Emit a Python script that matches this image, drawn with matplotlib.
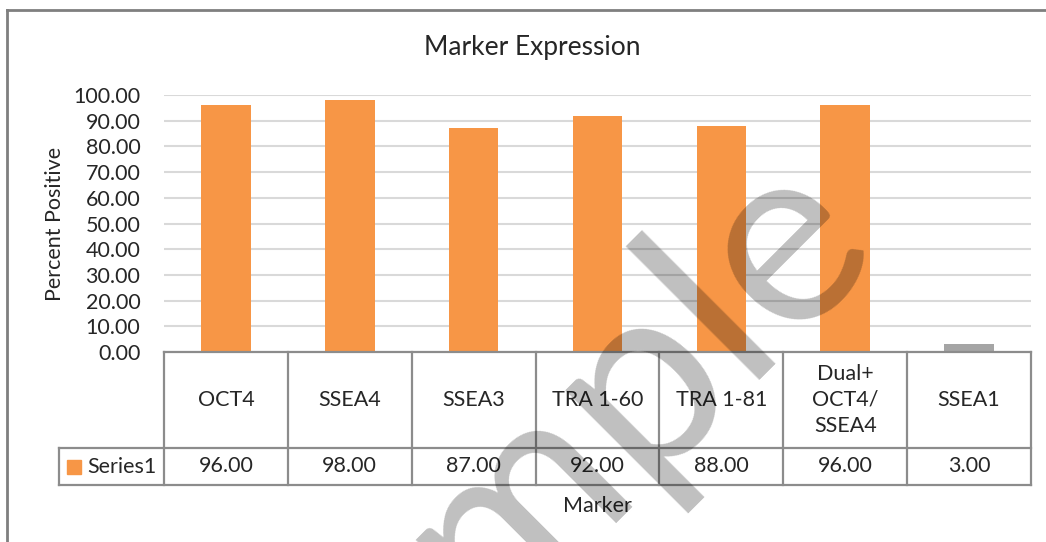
import numpy as np
import matplotlib.pyplot as plt
from matplotlib.patches import Rectangle
from matplotlib.lines import Line2D

plt.rcParams['font.family'] = ['Lato', 'DejaVu Sans']

# data
markers = ["OCT4", "SSEA4", "SSEA3", "TRA 1-60", "TRA 1-81", "Dual+\nOCT4/\nSSEA4", "SSEA1"]
percent = [96.0, 98.0, 87.0, 92.0, 88.0, 96.0, 3.0]
bar_colors = ["#F79646"] * 6 + ["#A5A5A5"]
series_name = "Series1"

W, H = 1046, 542
line_col = "#8C8C8C"
txt_col = "#262626"
fs = 15.5

fig = plt.figure(figsize=(W / 100, H / 100), dpi=100)

# outer chart border (only left and top visible)
fig.add_artist(Line2D([7 / W, 7 / W], [0, 1 - 10 / H], transform=fig.transFigure, color="#7F7F7F", lw=2))
fig.add_artist(Line2D([7 / W, 1], [1 - 10 / H, 1 - 10 / H], transform=fig.transFigure, color="#7F7F7F", lw=2))

# plot area
ax = fig.add_axes([164 / W, 1 - 352 / H, (1031 - 164) / W, (352 - 95) / H])
x = np.arange(len(markers))
ax.bar(x, percent, width=0.4, color=bar_colors, zorder=2)
ax.set_xlim(-0.5, len(markers) - 0.5)
ax.set_ylim(0, 100)
ax.set_yticks(np.arange(0, 101, 10))
ax.set_yticklabels([f"{v:.2f}" for v in np.arange(0, 101, 10)], fontsize=fs, color=txt_col)
ax.tick_params(axis="y", length=0, pad=17)
ax.tick_params(axis="x", length=0, labelbottom=False)
ax.grid(axis="y", color="#D9D9D9", lw=1.5, zorder=0)
for s in ax.spines.values():
    s.set_visible(False)
ax.set_ylabel("Percent Positive", fontsize=fs, color=txt_col, labelpad=6)

fig.text(532 / W, 1 - 47 / H, "Marker Expression", ha="center", va="center", fontsize=19, color=txt_col)

# data table below the plot
tb = fig.add_axes([164 / W, 1 - 485 / H, (1031 - 164) / W, (485 - 352) / H], sharex=ax)
tb.set_ylim(0, 1)
tb.axis("off")
row_split = 37 / 133
n = len(markers)
for i in range(n + 1):
    tb.plot([i - 0.5, i - 0.5], [0, 1], color=line_col, lw=1.6, clip_on=False)
tb.plot([-0.5, n - 0.5], [1, 1], color=line_col, lw=1.6, clip_on=False)
left_edge = -0.5 - 105 / 123.9
tb.plot([left_edge, n - 0.5], [row_split, row_split], color=line_col, lw=1.6, clip_on=False)
tb.plot([left_edge, n - 0.5], [0, 0], color=line_col, lw=1.6, clip_on=False)
tb.plot([left_edge, left_edge], [0, row_split], color=line_col, lw=1.6, clip_on=False)
for i, (m, v) in enumerate(zip(markers, percent)):
    tb.text(i, (1 + row_split) / 2, m, ha="center", va="center", fontsize=fs,
            color=txt_col, linespacing=1.4)
    tb.text(i, row_split / 2, f"{v:.2f}", ha="center", va="center", fontsize=fs, color=txt_col)

# legend key in the table
fig.add_artist(Rectangle((67 / W, 1 - 474 / H), 14 / W, 14 / H, transform=fig.transFigure,
                         color=bar_colors[0]))
fig.text(87 / W, 1 - 467 / H, series_name, ha="left", va="center", fontsize=fs, color=txt_col)

fig.text(597 / W, 1 - 506 / H, "Marker", ha="center", va="center", fontsize=fs, color=txt_col)

# watermark
fig.text(543 / W, 1 - 486 / H, "Sample", fontsize=185, rotation=45, rotation_mode="anchor",
         ha="center", va="center", color="black", alpha=0.25, zorder=10)

fig.savefig("out.png", dpi=100)
